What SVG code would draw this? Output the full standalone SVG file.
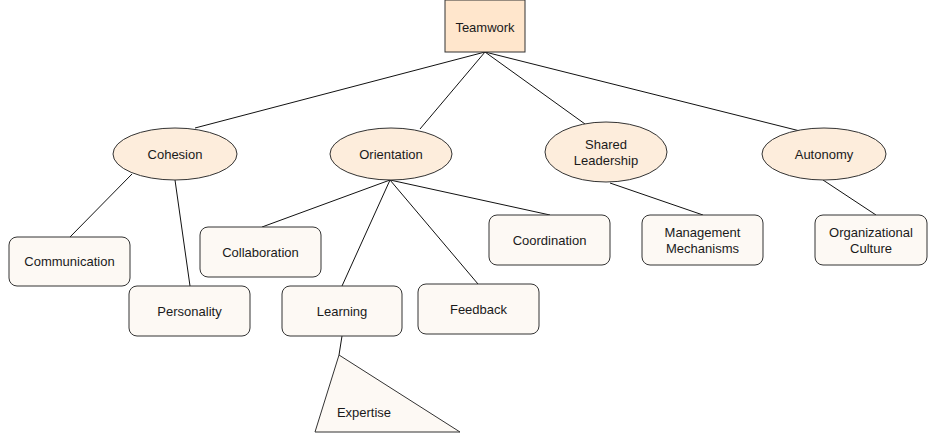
<svg xmlns="http://www.w3.org/2000/svg" width="928" height="436" viewBox="0 0 928 436">
<style>
text{font-family:"Liberation Sans",Arial,sans-serif;font-size:13px;fill:#1a1a1a;text-anchor:middle;dominant-baseline:central}
.root{fill:#ffe6cc;stroke:#333;stroke-width:1}
.ell{fill:#fdeddc;stroke:#333;stroke-width:1}
.box{fill:#fdf9f4;stroke:#333;stroke-width:1}
.con{stroke:#111;stroke-width:1;fill:none}
</style>
<rect width="928" height="436" fill="#fff"/>
<g id="connectors">
<line class="con" x1="485" y1="52" x2="195" y2="128"/>
<line class="con" x1="485" y1="52" x2="420" y2="129"/>
<line class="con" x1="485" y1="52" x2="585" y2="124"/>
<line class="con" x1="485" y1="52" x2="800" y2="131"/>
<line class="con" x1="132" y1="174" x2="70" y2="237"/>
<line class="con" x1="175" y1="180" x2="190" y2="286"/>
<line class="con" x1="390" y1="180" x2="262" y2="227"/>
<line class="con" x1="390" y1="180" x2="342" y2="286"/>
<line class="con" x1="390" y1="180" x2="478" y2="284"/>
<line class="con" x1="390" y1="180" x2="550" y2="215"/>
<line class="con" x1="610" y1="183" x2="703" y2="215"/>
<line class="con" x1="823" y1="180" x2="876" y2="215"/>
<line class="con" x1="342" y1="336" x2="339" y2="355"/>
</g>
<g id="teamwork"><rect class="root" x="445" y="0" width="80" height="52"/><text x="485" y="27">Teamwork</text></g>
<g id="cohesion"><ellipse class="ell" cx="175" cy="154" rx="62" ry="26"/><text x="175" y="154">Cohesion</text></g>
<g id="orientation"><ellipse class="ell" cx="391" cy="154" rx="61" ry="26"/><text x="391" y="154">Orientation</text></g>
<g id="shared-leadership"><ellipse class="ell" cx="606" cy="152" rx="61" ry="30"/><text x="606" y="144">Shared</text><text x="606" y="160">Leadership</text></g>
<g id="autonomy"><ellipse class="ell" cx="824" cy="154" rx="62" ry="26"/><text x="824" y="154">Autonomy</text></g>
<g id="communication"><rect class="box" x="9" y="237" width="121" height="49" rx="8"/><text x="69.5" y="261.5">Communication</text></g>
<g id="personality"><rect class="box" x="129" y="286" width="121" height="50" rx="8"/><text x="189.5" y="311">Personality</text></g>
<g id="collaboration"><rect class="box" x="200" y="227" width="121" height="50" rx="8"/><text x="260.5" y="252">Collaboration</text></g>
<g id="learning"><rect class="box" x="282" y="286" width="120" height="50" rx="8"/><text x="342" y="311">Learning</text></g>
<g id="feedback"><rect class="box" x="418" y="284" width="121" height="50" rx="8"/><text x="478.5" y="309">Feedback</text></g>
<g id="coordination"><rect class="box" x="489" y="215" width="121" height="50" rx="8"/><text x="549.5" y="240">Coordination</text></g>
<g id="management-mechanisms"><rect class="box" x="642" y="215" width="121" height="50" rx="8"/><text x="702.5" y="232">Management</text><text x="702.5" y="248">Mechanisms</text></g>
<g id="organizational-culture"><rect class="box" x="815" y="215" width="112" height="50" rx="8"/><text x="871" y="232">Organizational</text><text x="871" y="248">Culture</text></g>
<g id="expertise"><polygon class="box" points="339,355 315,432 460,432"/><text x="364" y="412">Expertise</text></g>
</svg>
